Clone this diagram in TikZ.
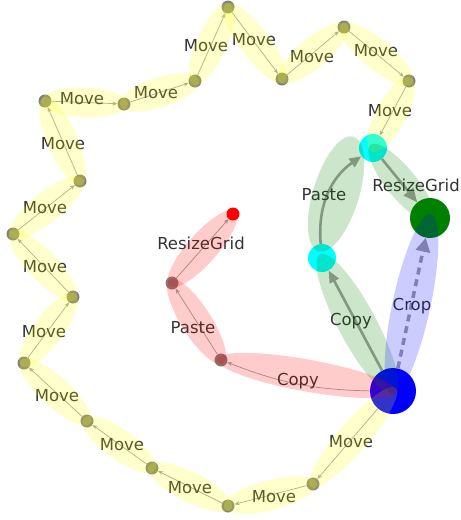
\documentclass[tikz,border=0pt]{standalone}
\usepackage{fontspec}
\setsansfont{DejaVu Sans}
\usetikzlibrary{shapes.geometric,arrows.meta,calc}

\definecolor{nodegray}{RGB}{128,128,128}
\definecolor{darkgreen}{RGB}{0,128,0}
\definecolor{cyanc}{RGB}{0,255,255}
\definecolor{bluec}{RGB}{0,0,255}
\definecolor{redc}{RGB}{255,0,0}
\definecolor{yellowc}{RGB}{255,255,0}
\definecolor{edgegray}{RGB}{160,160,160}
\definecolor{labelgray}{RGB}{51,51,51}

\tikzset{
  state/.style={circle, fill=nodegray, inner sep=0pt, minimum size=13pt},
  lbl/.style={font=\fontsize{16.5}{19}\selectfont\sffamily, text=labelgray, inner sep=0pt},
  small/.style={-{Stealth[length=5pt,width=4pt]}, draw=edgegray, line width=0.7pt},
  big/.style={-{Triangle[length=12pt,width=10pt]}, draw=edgegray, line width=2.6pt},
  cropline/.style={-{Triangle[length=14pt,width=14pt]}, draw=edgegray, line width=3.5pt, dash pattern=on 7pt off 5pt},
  hlfill/.style={fill=#1, fill opacity=0.2}
}

% highlight ellipse along an edge: colour, from, to, thickness
\newcommand\hilite[4]{%
  \path let \p1=($(#3)-(#2)$), \n1={veclen(\x1,\y1)}, \n2={atan2(\y1,\x1)} in
    \pgfextra{\xdef\hllen{\n1}\xdef\hlang{\n2}};
  \fill[hlfill=#1, shift={($(#2)!0.5!(#3)$)}, rotate=\hlang]
    (0,0) ellipse [x radius=\hllen/2+4pt, y radius=#4/2];}

\begin{document}
\begin{tikzpicture}[x=1pt,y=-1pt]
\useasboundingbox (0,0) rectangle (461,520);

% states
\foreach \n/\x/\y in {m1/313/484, m2/228/506, m3/152/468, m4/87/421, m5/24/363,
    m6/73/297, m7/13/234, m8/80/181, m9/45/101, m10/124/104, m11/195/81,
    m12/228/7, m13/282/79, m14/344/27, m15/409/81, r2/221/360, r1/172/283}
  \node[state] (\n) at (\x,\y) {};
\node[circle, fill=bluec, inner sep=0pt, minimum size=46pt] (b) at (393,391) {};
\node[circle, fill=cyanc, inner sep=0pt, minimum size=28pt] (ct) at (373,148) {};
\node[circle, fill=cyanc, inner sep=0pt, minimum size=28pt] (cb) at (322,258) {};
\node[circle, fill=darkgreen, inner sep=0pt, minimum size=40pt] (gr) at (430,218) {};
\node[circle, fill=redc, inner sep=0pt, minimum size=13pt] (rs) at (233,214) {};

% move chain
\foreach \a/\b/\lx/\ly [count=\i] in {b/m1/351/442, m1/m2/274/497, m2/m3/190/488,
    m3/m4/122/445, m4/m5/57/396, m5/m6/44/332, m6/m7/45/267, m7/m8/45/208,
    m8/m9/63/144, m9/m10/82/99, m10/m11/156/93, m11/m12/206/46,
    m12/m13/254/40, m13/m14/312/57, m14/m15/376/51, m15/ct/390/111} {
  \draw[small] (\a) -- (\b);
  \node[lbl] (move\i) at (\lx,\ly) {Move};
}

% other actions
\draw[big] (b) -- (cb);
\draw[big] (cb) to[bend left=30] (ct);
\draw[big, -{Triangle[length=14pt,width=12pt]}] (ct) -- (gr);
\draw[cropline] (b) -- (gr);
\draw[small] (b) to[bend left=10] (r2);
\draw[small] (r2) -- (r1);
\draw[small] (r1) -- (rs);

\node[lbl] (copyG) at (351,321) {Copy};
\node[lbl] (pasteG) at (324,195) {Paste};
\node[lbl] (resizeG) at (416,185) {ResizeGrid};
\node[lbl] (crop) at (412,306) {Crop};
\node[lbl] (copyR) at (298,381) {Copy};
\node[lbl] (pasteR) at (193,328) {Paste};
\node[lbl] (resizeR) at (201,243) {ResizeGrid};

% highlights
\foreach \a/\b in {b/m1, m1/m2, m2/m3, m3/m4, m4/m5, m5/m6, m6/m7, m7/m8,
    m8/m9, m9/m10, m10/m11, m11/m12, m12/m13, m13/m14, m14/m15, m15/ct} {
  \hilite{yellowc}{\a}{\b}{30pt}
}
\hilite{darkgreen}{b}{cb}{38pt}
\fill[hlfill=darkgreen, shift={(336,194)}, rotate=73]
  (0,0) ellipse [x radius=60pt, y radius=23pt];
\hilite{darkgreen}{ct}{gr}{30pt}
\hilite{bluec}{b}{gr}{38pt}
\hilite{redc}{b}{r2}{32pt}
\hilite{redc}{r2}{r1}{30pt}
\hilite{redc}{r1}{rs}{30pt}
\end{tikzpicture}
\end{document}
